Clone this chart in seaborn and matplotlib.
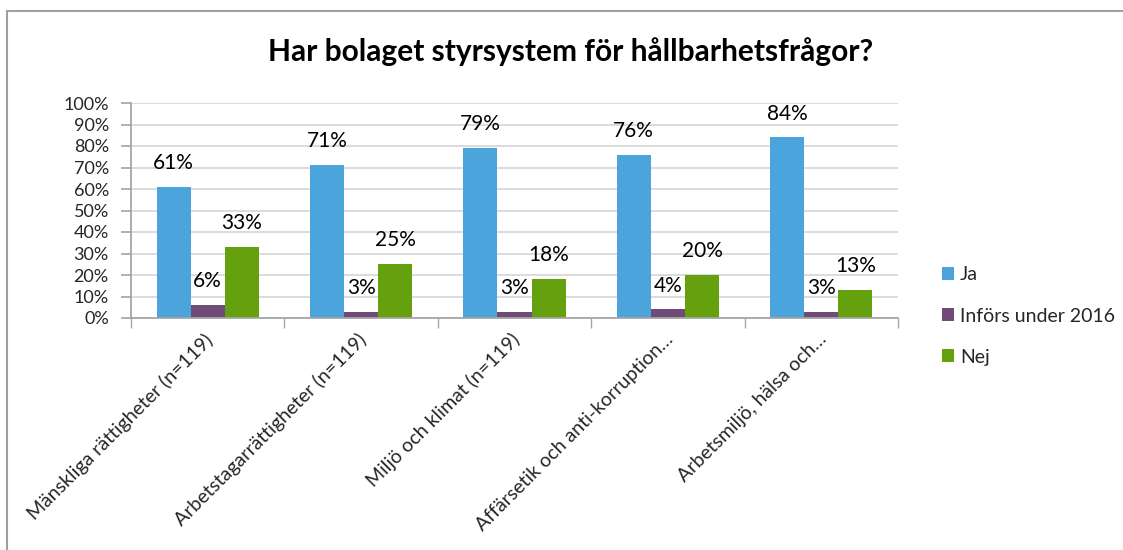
import numpy as np
import pandas as pd
import seaborn as sns
import matplotlib as mpl
import matplotlib.pyplot as plt
from matplotlib.patches import Rectangle
from matplotlib.transforms import ScaledTranslation

sns.set_theme(style="white")
plt.rcParams["font.family"] = ["Lato", "DejaVu Sans"]

categories = [
    "Mänskliga rättigheter (n=119)",
    "Arbetstagarrättigheter (n=119)",
    "Miljö och klimat (n=119)",
    "Affärsetik och anti-korruption…",
    "Arbetsmiljö, hälsa och…",
]
series = ["Ja", "Införs under 2016", "Nej"]
ja = [61, 71, 79, 76, 84]
infors = [6, 3, 3, 4, 3]
nej = [33, 25, 18, 20, 13]
colors = ["#4BA5DC", "#704B78", "#65A00F"]

df = pd.DataFrame({
    "category": categories * 3,
    "series": np.repeat(series, len(categories)),
    "value": ja + infors + nej,
})

fig = plt.figure(figsize=(11.23, 5.5), dpi=100)
ax = fig.add_axes([131 / 1123, 1 - 318 / 550, (898 - 131) / 1123, 215 / 550])

sns.barplot(
    data=df, x="category", y="value", hue="series", order=categories,
    hue_order=series, palette=colors, saturation=1, width=0.667, linewidth=0, ax=ax,
)

for cont in ax.containers:
    ax.bar_label(cont, fmt="{:.0f}%", padding=10, fontsize=15, color="black")

ax.set_ylim(0, 100)
ax.set_xlim(-0.5, len(categories) - 0.5)
ax.set_yticks(range(0, 101, 10))
ax.set_yticklabels([f"{v}%" for v in range(0, 101, 10)], fontsize=13)
ax.yaxis.grid(True, color="#d9d9d9", linewidth=1.3)
ax.set_axisbelow(True)
ax.tick_params(axis="y", which="major", left=True, length=7, color="#a6a6a6", pad=9)

ax.set_xticks(range(len(categories)))
ax.set_xticklabels(categories, rotation=45, ha="right", rotation_mode="anchor", fontsize=14)
ax.set_xticks(np.arange(-0.5, len(categories)), minor=True)
ax.tick_params(axis="x", which="major", length=0, pad=9)
ax.tick_params(axis="x", which="minor", bottom=True, length=7, color="#a6a6a6")
shift = ScaledTranslation(-4 / 100, 0, fig.dpi_scale_trans)
for lab in ax.get_xticklabels():
    lab.set_transform(lab.get_transform() + shift)
ax.set_xlabel("")
ax.set_ylabel("")

for side in ["top", "right"]:
    ax.spines[side].set_visible(False)
for side in ["left", "bottom"]:
    ax.spines[side].set_color("#a6a6a6")
    ax.spines[side].set_linewidth(1.3)

handles, labels = ax.get_legend_handles_labels()
ax.legend(
    handles, labels, loc="center left", bbox_to_anchor=(924 / 1123, 1 - 316 / 550),
    bbox_transform=fig.transFigure, frameon=False, fontsize=14,
    handlelength=0.65, handleheight=0.65, handletextpad=0.3, labelspacing=1.25,
)

fig.text(571 / 1123, 1 - 52 / 550, "Har bolaget styrsystem för hållbarhetsfrågor?",
         ha="center", va="center", fontsize=21.5, fontweight="bold", color="black")

fig.patches.append(Rectangle((7 / 1123, -0.05), 1.1, 1 - 11 / 550 + 0.05,
                             transform=fig.transFigure, fill=False,
                             edgecolor="#a0a0a0", linewidth=1.5))

fig.savefig("out.png", dpi=100)
